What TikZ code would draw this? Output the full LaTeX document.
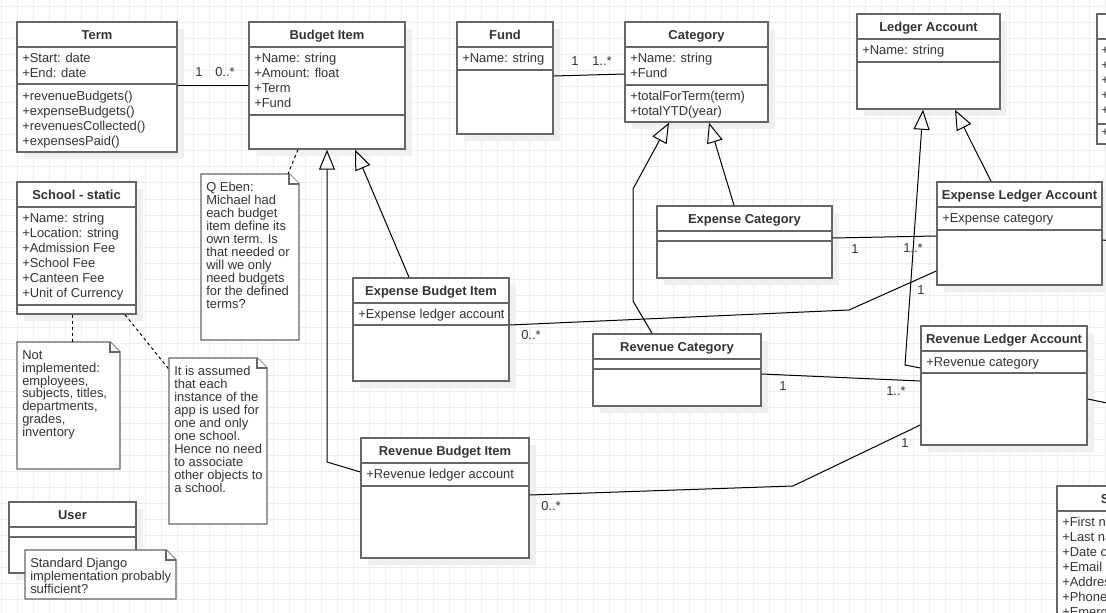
\documentclass[tikz,border=0pt]{standalone}
\usepackage{fontspec}
\setmainfont{Liberation Sans}
\usetikzlibrary{arrows.meta}
\usetikzlibrary{fit}
\usetikzlibrary{calc}

\newcommand{\umlsize}{\fontsize{9.7}{11.25}\selectfont}
\newcommand{\notesize}{\fontsize{9.7}{9.7}\selectfont}

\tikzset{
  classframe/.style={draw=black!60, line width=1.1pt},
  shadowfill/.style={fill=black!6},
  classtitle/.style={font=\umlsize\bfseries, text=black!80, text height=7pt, text depth=0pt, inner sep=0pt},
  members/.style={anchor=north west, align=left, inner sep=0pt, text=black!80, font=\umlsize},
  notebox/.style={draw=black!60, line width=1.1pt, fill=white},
  notetext/.style={anchor=north west, align=left, inner sep=0pt, text=black!80, font=\notesize},
  assoc/.style={draw=black, line width=0.75pt},
  extends/.style={assoc, -{Triangle[open, length=15pt, width=12pt]}},
  anchorline/.style={draw=black, line width=0.75pt, dash pattern=on 2.25pt off 2.25pt},
  mult/.style={inner sep=0pt, text=black!80, font=\umlsize},
  gridline/.style={draw=black!7, line width=0.75pt}
}

% name, left, top, right, bottom, first rule, second rule, title
\newcommand{\umlclass}[8]{%
  \fill[shadowfill] (#2+7,#3+7) rectangle (#4+7,#5+7);
  \node[classframe, fill=white, fit={(#2,#3) (#4,#5)}, inner sep=0pt] (#1) {};
  \draw[classframe] (#2,#6) -- (#4,#6);
  \draw[classframe] (#2,#7) -- (#4,#7);
  \node[classtitle] (#1-title) at ({(#2+#4)/2},{(#3+#6)/2}) {#8};
}

% name, left, top, right, bottom, text
\newcommand{\umlnote}[6]{%
  \node[fit={(#2,#3) (#4,#5)}, inner sep=0pt] (#1) {};
  \draw[notebox] (#2,#3) -- (#4-10,#3) -- (#4,#3+10) -- (#4,#5) -- (#2,#5) -- cycle;
  \draw[notebox] (#4-10,#3) -- (#4-10,#3+10) -- (#4,#3+10);
  \node[notetext] (#1-text) at (#2+5,#3+8) {#6};
}

\begin{document}
\begin{tikzpicture}[x=0.75pt, y=-0.75pt]
\useasboundingbox (0,0) rectangle (1106,613);
\clip (0,0) rectangle (1106,613);

\foreach \gx in {1,17,...,1105} \draw[gridline] (\gx,0) -- (\gx,613);
\foreach \gy in {7,23,...,611} \draw[gridline] (0,\gy) -- (1106,\gy);

% classes
\umlclass{term}{17}{22}{177}{152}{47}{84}{Term}
\node[members] (term-attrs) at (22,53) {+Start: date\\+End: date};
\node[members] (term-ops) at (22,90.5) {+revenueBudgets()\\+expenseBudgets()\\+revenuesCollected()\\+expensesPaid()};

\umlclass{budget}{249}{22}{405}{149}{47}{115}{Budget Item}
\node[members] (budget-attrs) at (254,53) {+Name: string\\+Amount: float\\+Term\\+Fund};

\umlclass{fund}{457}{22}{553}{134}{47}{70}{Fund}
\node[members] (fund-attrs) at (462,53) {+Name: string};

\umlclass{category}{625}{22}{768}{122}{47}{85}{Category}
\node[members] (category-attrs) at (630,53) {+Name: string\\+Fund};
\node[members] (category-ops) at (630,91) {+totalForTerm(term)\\+totalYTD(year)};

\umlclass{ledger}{857}{14}{1000}{109}{39}{62}{Ledger Account}
\node[members] (ledger-attrs) at (862,45) {+Name: string};

\umlclass{topright}{1097}{14}{1240}{144}{39}{124}{}
\node[members] (topright-attrs) at (1101,47) {+\\+\\+\\+\\+};
\node[members] (topright-ops) at (1101,129) {+};

\umlclass{school}{17}{182}{136}{314}{207}{305}{School - static}
\node[members] (school-attrs) at (22,213) {+Name: string\\+Location: string\\+Admission Fee\\+School Fee\\+Canteen Fee\\+Unit of Currency};

\umlclass{expcat}{657}{206}{832}{278}{231}{241}{Expense Category}
\umlclass{revcat}{593}{334}{761}{406}{359}{369}{Revenue Category}

\umlclass{expbudget}{353}{278}{509}{381}{303}{325}{Expense Budget Item}
\node[members] (expbudget-attrs) at (358,308.5) {+Expense ledger account};

\umlclass{revbudget}{361}{438}{529}{558}{463}{486}{Revenue Budget Item}
\node[members] (revbudget-attrs) at (366,468.5) {+Revenue ledger account};

\umlclass{expledger}{937}{182}{1102}{285}{207}{230}{Expense Ledger Account}
\node[members] (expledger-attrs) at (942,213) {+Expense category};

\umlclass{revledger}{921}{326}{1087}{445}{351}{373}{Revenue Ledger Account}
\node[members] (revledger-attrs) at (926,357) {+Revenue category};

\umlclass{user}{9}{502}{136}{573}{527}{537}{User}

\umlclass{student}{1057}{486}{1193}{660}{511}{650}{Student}
\node[members] (student-attrs) at (1062,516.5) {+First name\\+Last name\\+Date of birth\\+Email\\+Address\\+Phone\\+Emergency contact};

% generalisations
\draw[extends] (revbudget.west |- 0,472) -- (budget.south |- 0,462) -- (budget.south);
\draw[extends] (expbudget.north -| 409,0) -- (budget.south -| 355,0);
\draw[extends] (expcat.north -| 734,0) -- (category.south -| 709,0);
\draw[extends] (revcat.north -| 652,0) -- (633,301) -- (633,189) -- (category.south -| 669,0);
\draw[extends] (expledger.north -| 991,0) -- (ledger.south -| 955,0);
\draw[extends] (revledger.west |- 0,368) -- (905,365) -- (ledger.south -| 923,0);

% associations
\coordinate (offright1) at (1112,241);
\coordinate (offright2) at (1112,404);
\draw[assoc] (term.east |- 0,86) -- (budget.west |- 0,86);
\draw[assoc] (fund.east |- 0,76) -- (category.west |- 0,74);
\draw[assoc] (expcat.east |- 0,238) -- (expledger.west |- 0,236);
\draw[assoc] (expbudget.east |- 0,325) -- (849,310) -- (expledger.west |- 0,271);
\draw[assoc] (revcat.east |- 0,374) -- (revledger.west |- 0,381);
\draw[assoc] (revbudget.east |- 0,495) -- (793,486) -- (revledger.west |- 0,425);
\draw[assoc] (expledger.east |- 0,240) -- (offright1);
\draw[assoc] (revledger.east |- 0,399) -- (offright2);

\node[mult] (m-term) at (199,72) {1};
\node[mult] (m-budget) at (225,72) {0..*};
\node[mult] (m-fund) at (575,61) {1};
\node[mult] (m-category) at (602,61) {1..*};
\node[mult] (m-expcat) at (855,249) {1};
\node[mult] (m-expcat-ledger) at (913,248) {1..*};
\node[mult] (m-expbudget) at (531,335) {0..*};
\node[mult] (m-expbudget-ledger) at (921,290) {1};
\node[mult] (m-revcat) at (783,386) {1};
\node[mult] (m-revcat-ledger) at (896,391) {1..*};
\node[mult] (m-revbudget) at (551,506) {0..*};
\node[mult] (m-revbudget-ledger) at (905,443) {1};

% notes
\umlnote{qeben}{201}{174}{299}{340}{Q Eben:\\Michael had\\each budget\\item define its\\own term. Is\\that needed or\\will we only\\need budgets\\for the defined\\terms?}
\umlnote{notimpl}{17}{342}{120}{469}{Not\\implemented:\\employees,\\subjects, titles,\\departments,\\grades,\\inventory}
\umlnote{assumed}{169}{358}{267}{524}{It is assumed\\that each\\instance of the\\app is used for\\one and only\\one school.\\Hence no need\\to associate\\other objects to\\a school.}
\umlnote{django}{25}{550}{176}{599}{Standard Django\\implementation probably\\sufficient?}

\draw[anchorline] (budget.south -| 298,0) -- (qeben.north -| 288,0);
\draw[anchorline] (school.south -| 72,0) -- (notimpl.north -| 72,0);
\draw[anchorline] (school.south -| 125,0) -- (assumed.west |- 0,369);
\end{tikzpicture}
\end{document}
